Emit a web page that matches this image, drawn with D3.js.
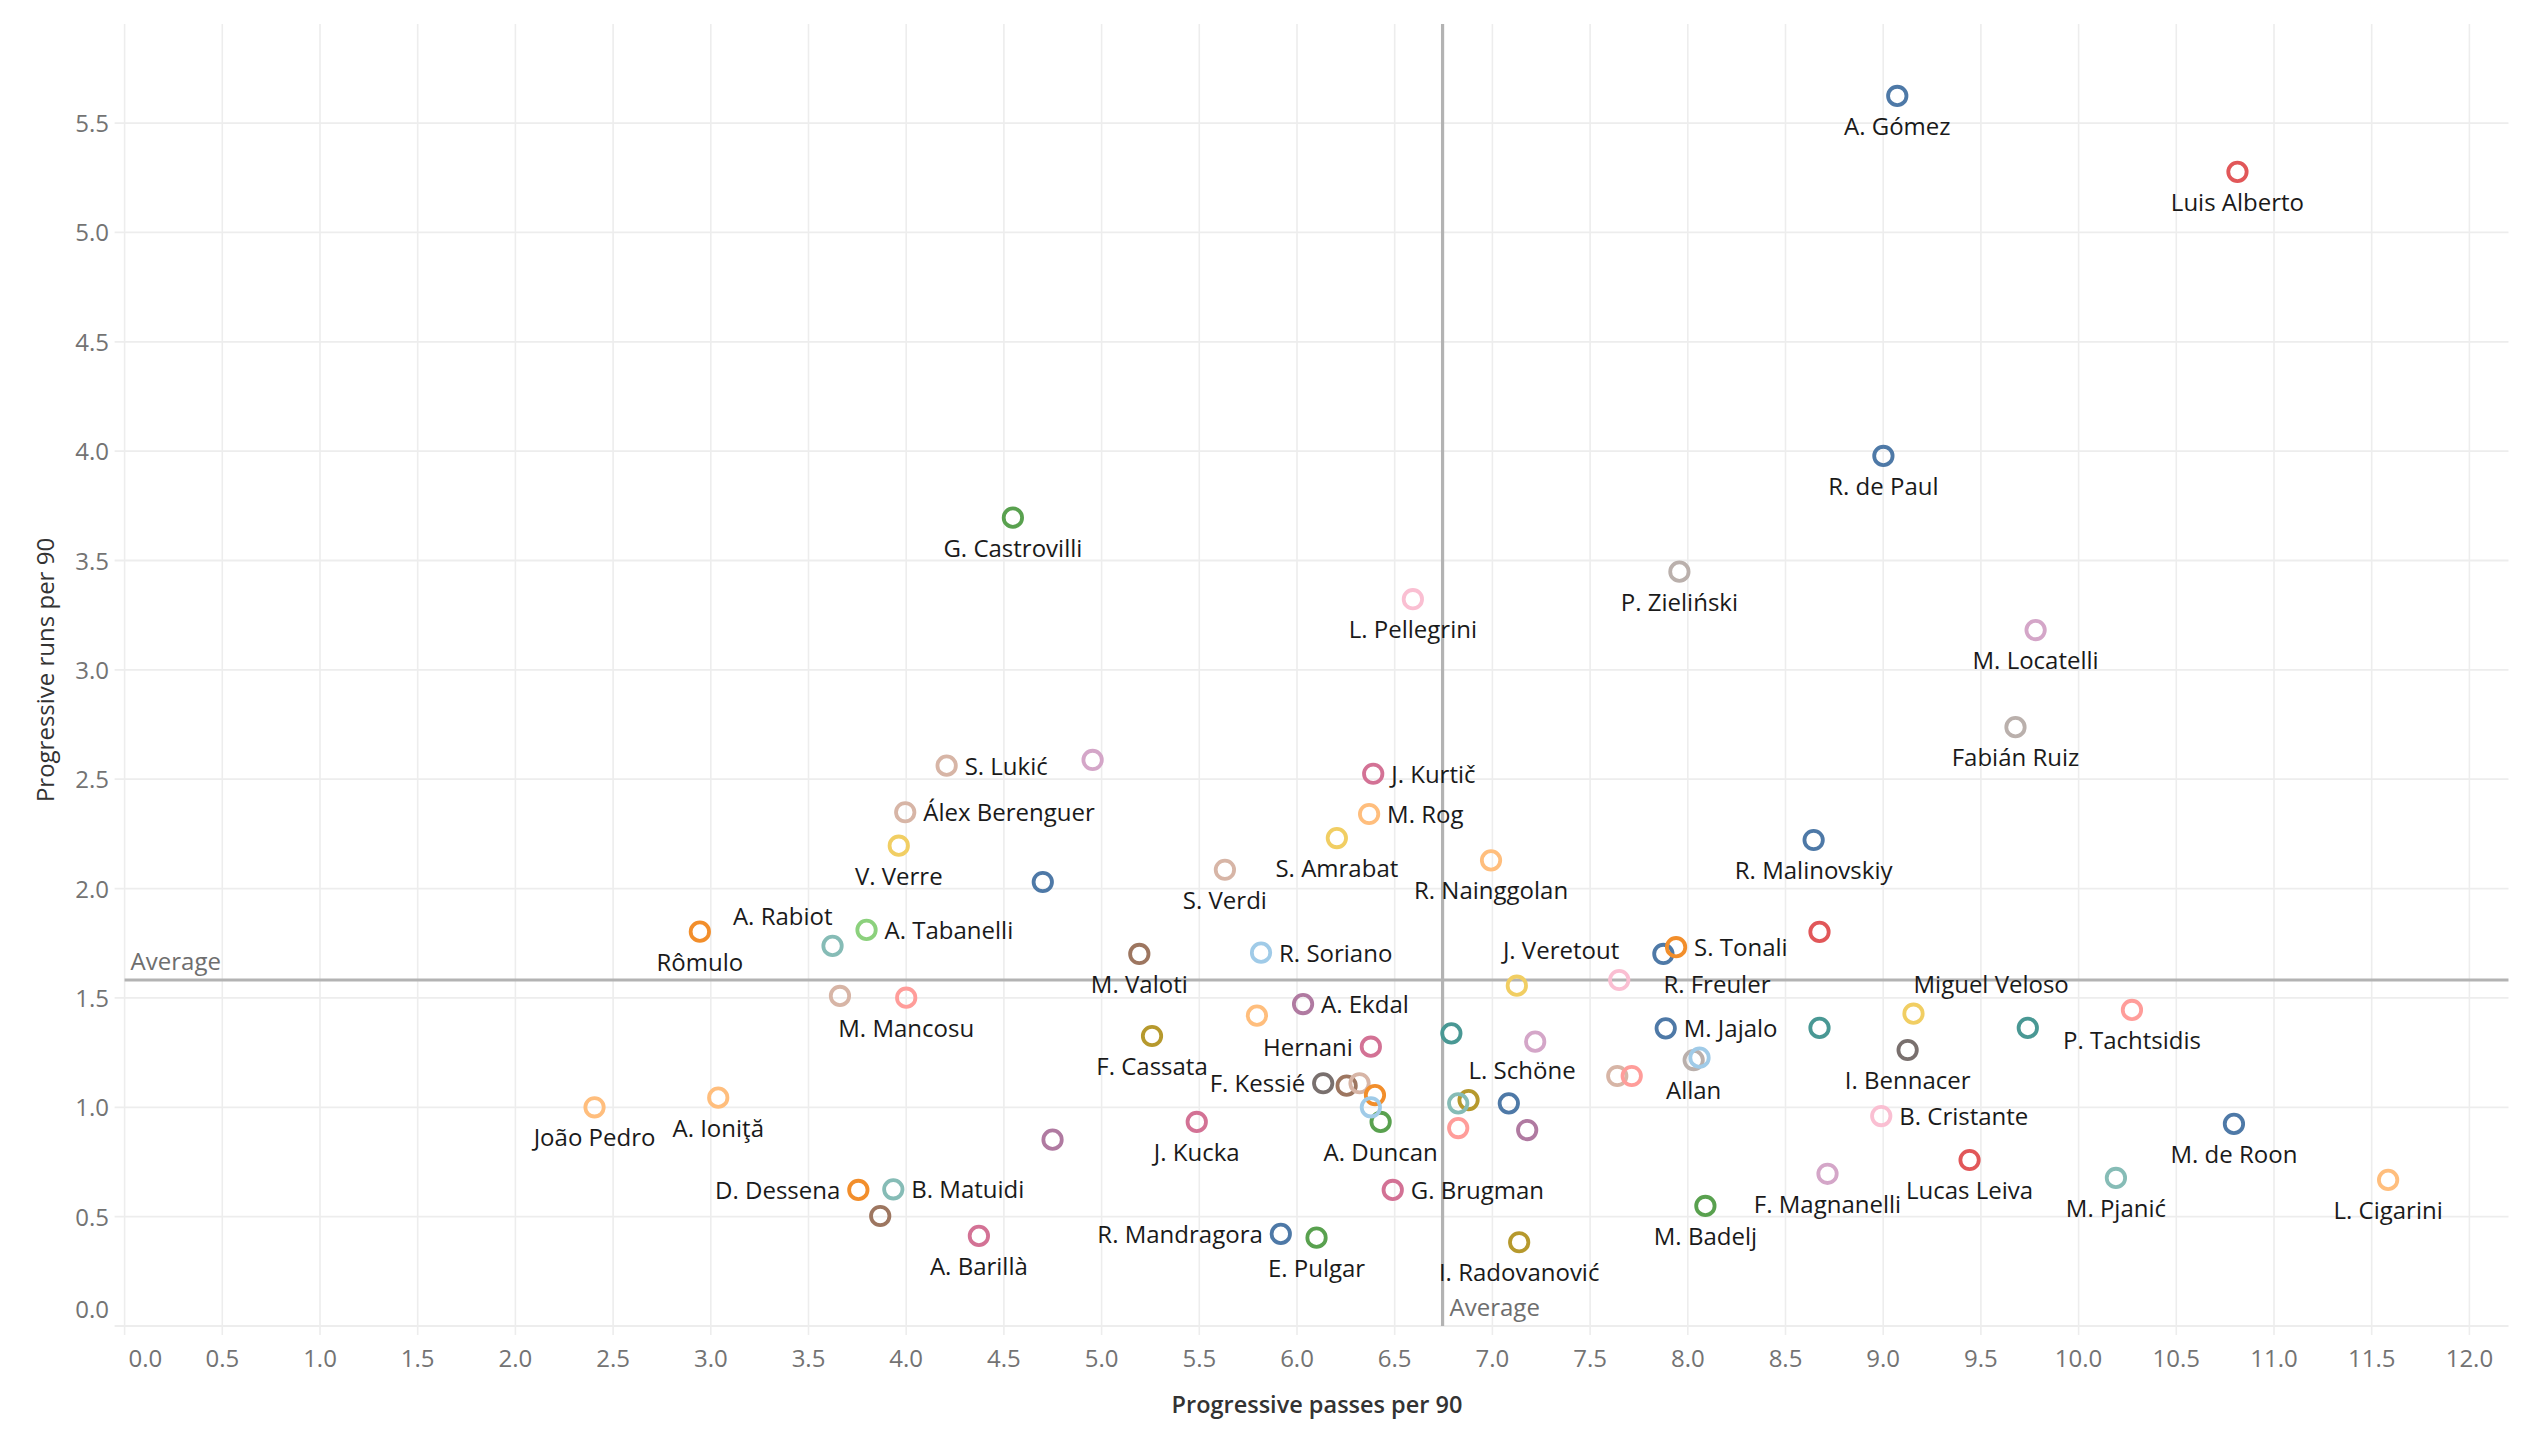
<!DOCTYPE html>
<html>
<head>
<meta charset="utf-8">
<script src="https://cdn.jsdelivr.net/npm/d3@7"></script>
<style>
  html, body { margin: 0; padding: 0; background: #ffffff; }
  svg { display: block; }
  text { font-family: "Open Sans", "Noto Sans", sans-serif; }
</style>
</head>
<body>
<svg id="chart" width="2528" height="1438"></svg>
<script>
// ---------------- DATA ----------------
const players = [
  "A. Gómez", "Luis Alberto", "R. de Paul", "G. Castrovilli", "L. Pellegrini",
  "P. Zieliński", "M. Locatelli", "Fabián Ruiz", "R. Malinovskiy", "",
  "Miguel Veloso", "", "I. Bennacer", "", "P. Tachtsidis",
  "B. Cristante", "M. de Roon", "Lucas Leiva", "F. Magnanelli", "M. Pjanić",
  "L. Cigarini", "M. Badelj", "I. Radovanović", "G. Brugman", "E. Pulgar",
  "R. Mandragora", "A. Barillà", "J. Kucka", "", "A. Duncan",
  "", "", "B. Matuidi", "D. Dessena", "",
  "João Pedro", "A. Ioniţă", "Rômulo", "A. Tabanelli", "",
  "M. Mancosu", "V. Verre", "Álex Berenguer", "S. Lukić", "",
  "", "J. Kurtič", "M. Rog", "S. Amrabat", "S. Verdi",
  "R. Nainggolan", "M. Valoti", "R. Soriano", "", "J. Veretout",
  "R. Freuler", "S. Tonali", "A. Ekdal", "", "F. Cassata",
  "Hernani", "", "", "L. Schöne", "M. Jajalo",
  "Allan", "", "", "", "F. Kessié",
  "", "", "", "", "",
  "", "A. Rabiot"
];
const progressivePasses = [
  9.072, 10.813, 9.001, 4.546, 6.593,
  7.957, 9.780, 9.677, 8.644, 8.674,
  9.155, 8.674, 9.125, 9.740, 10.273,
  8.990, 10.795, 9.442, 8.715, 10.191,
  11.584, 8.09, 7.137, 6.49, 6.10,
  5.917, 4.372, 5.487, 4.749, 6.428,
  6.825, 7.178, 3.934, 3.755, 3.867,
  2.405, 3.038, 2.944, 3.797, 3.661,
  4.0, 3.962, 3.995, 4.207, 4.954,
  4.699, 6.39, 6.369, 6.204, 5.631,
  6.993, 5.193, 5.816, 7.125, 7.649,
  7.875, 7.94, 6.031, 5.795, 5.258,
  6.378, 6.79, 7.219, 6.878, 7.887,
  8.03, 8.06, 7.639, 7.713, 6.134,
  6.254, 6.32, 6.399, 6.378, 6.825,
  7.084, 3.623
];
const progressiveRuns = [
  5.624, 5.277, 3.978, 3.696, 3.323,
  3.449, 3.182, 2.738, 2.222, 1.802,
  1.428, 1.363, 1.262, 1.363, 1.445,
  0.960, 0.924, 0.759, 0.696, 0.677,
  0.668, 0.549, 0.383, 0.622, 0.404,
  0.421, 0.412, 0.933, 0.852, 0.933,
  0.905, 0.896, 0.625, 0.622, 0.503,
  1.000, 1.044, 1.803, 1.811, 1.509,
  1.501, 2.196, 2.349, 2.562, 2.588,
  2.030, 2.525, 2.341, 2.231, 2.086,
  2.129, 1.701, 1.707, 1.556, 1.582,
  1.701, 1.732, 1.472, 1.419, 1.326,
  1.277, 1.338, 1.300, 1.033, 1.361,
  1.216, 1.227, 1.143, 1.143, 1.110,
  1.099, 1.110, 1.056, 1.000, 1.018,
  1.018, 1.738
];
const clubs = [
  "Atalanta", "Lazio", "Udinese", "Fiorentina", "Roma",
  "Napoli", "Sassuolo", "Napoli", "Atalanta", "Lazio",
  "Verona", "Inter", "Milan", "Inter", "Lecce",
  "Roma", "Atalanta", "Lazio", "Sassuolo", "Juventus",
  "Cagliari", "Fiorentina", "Genoa", "Parma", "Fiorentina",
  "Udinese", "Parma", "Parma", "Sampdoria", "Fiorentina",
  "Lecce", "Sampdoria", "Juventus", "Brescia", "SPAL",
  "Cagliari", "Cagliari", "Brescia", "Frosinone", "Torino",
  "Lecce", "Verona", "Torino", "Torino", "Sassuolo",
  "Atalanta", "Parma", "Cagliari", "Verona", "Torino",
  "Cagliari", "SPAL", "Bologna", "Verona", "Roma",
  "Atalanta", "Brescia", "Sampdoria", "Cagliari", "Genoa",
  "Parma", "Inter", "Sassuolo", "Genoa", "Udinese",
  "Napoli", "Bologna", "Torino", "Lecce", "Milan",
  "SPAL", "Torino", "Brescia", "Bologna", "Juventus",
  "Udinese", "Juventus"
];
const averagePasses = 6.745;
const averageRuns = 1.582;
const xTicks = d3.range(0, 12.01, 0.5);
const yTicks = d3.range(0, 5.51, 0.5);
const xTitle = "Progressive passes per 90";
const yTitle = "Progressive runs per 90";
const averageLabel = "Average";

// ---------------- STYLE / LAYOUT ----------------
const clubColor = {
  "Atalanta": "#4e79a7", "Udinese": "#4e79a7", "Bologna": "#a0cbe8",
  "Brescia": "#f28e2b", "Cagliari": "#ffbe7d", "Fiorentina": "#59a14f",
  "Frosinone": "#8cd17d", "Genoa": "#b6992d", "Verona": "#f1ce63",
  "Inter": "#499894", "Juventus": "#86bcb6", "Lazio": "#e15759",
  "Lecce": "#ff9d9a", "Milan": "#79706e", "Napoli": "#bab0ac",
  "Parma": "#d37295", "Roma": "#fabfd2", "Sampdoria": "#b07aa1",
  "Sassuolo": "#d4a6c8", "SPAL": "#9d7660", "Torino": "#d7b5a6"
};
// label placement (b = below, r = right, l = left, tl/tr = above-left/right, br = below-right)
const labelPlacement = {
  "Miguel Veloso": "tr", "L. Schöne": "tr", "J. Veretout": "tl", "A. Rabiot": "tl",
  "R. Freuler": "br",
  "B. Cristante": "r", "G. Brugman": "r", "B. Matuidi": "r", "A. Tabanelli": "r",
  "Álex Berenguer": "r", "S. Lukić": "r", "J. Kurtič": "r", "M. Rog": "r",
  "R. Soriano": "r", "S. Tonali": "r", "A. Ekdal": "r", "M. Jajalo": "r",
  "R. Mandragora": "l", "D. Dessena": "l", "Hernani": "l", "F. Kessié": "l"
};

const svg = d3.select("#chart");
const W = 2528, H = 1438;
svg.append("rect").attr("width", W).attr("height", H).attr("fill", "#ffffff");

const x = d3.scaleLinear().domain([0, 12.2]).range([124.6, 124.6 + 12.2 * 195.4]);
const y = d3.scaleLinear().domain([0, 5.953]).range([1326, 24]);
const plotTop = y(5.953), plotBottom = y(0), plotLeft = x(0), plotRight = x(12.2);

const fmt = d3.format(".1f");
const gridColor = "#ededed";

// vertical gridlines + x axis ticks
const gx = svg.append("g");
gx.selectAll("line").data(xTicks).join("line")
  .attr("x1", d => x(d)).attr("x2", d => x(d))
  .attr("y1", plotTop).attr("y2", plotBottom + 9)
  .attr("stroke", gridColor).attr("stroke-width", 1.6);
gx.selectAll("text").data(xTicks).join("text")
  .attr("x", d => d === 0 ? x(d) + 4 : x(d))
  .attr("y", 1367)
  .attr("text-anchor", d => d === 0 ? "start" : "middle")
  .attr("font-size", 24).attr("fill", "#737373")
  .text(d => fmt(d));

// horizontal gridlines + y axis ticks
const gy = svg.append("g");
gy.selectAll("line").data(yTicks).join("line")
  .attr("x1", plotLeft - 10).attr("x2", plotRight)
  .attr("y1", d => y(d)).attr("y2", d => y(d))
  .attr("stroke", gridColor).attr("stroke-width", 1.8);
gy.selectAll("text").data(yTicks).join("text")
  .attr("x", 109)
  .attr("y", d => d === 0 ? y(d) - 8 : y(d) + 9)
  .attr("text-anchor", "end")
  .attr("font-size", 24).attr("fill", "#737373")
  .text(d => fmt(d));

// reference (average) lines
svg.append("line")
  .attr("x1", plotLeft).attr("x2", plotRight)
  .attr("y1", y(averageRuns)).attr("y2", y(averageRuns))
  .attr("stroke", "#b3b3b3").attr("stroke-width", 3.2);
svg.append("line")
  .attr("x1", x(averagePasses)).attr("x2", x(averagePasses))
  .attr("y1", plotTop).attr("y2", plotBottom)
  .attr("stroke", "#b3b3b3").attr("stroke-width", 3.2);
svg.append("text")
  .attr("x", plotLeft + 6).attr("y", y(averageRuns) - 10)
  .attr("font-size", 24).attr("fill", "#6e6e6e").text(averageLabel);
svg.append("text")
  .attr("x", x(averagePasses) + 7).attr("y", plotBottom - 10)
  .attr("font-size", 24).attr("fill", "#6e6e6e").text(averageLabel);

// axis titles
svg.append("text")
  .attr("x", 1317).attr("y", 1413)
  .attr("text-anchor", "middle")
  .attr("font-size", 23.5).attr("font-weight", 600).attr("fill", "#333333")
  .text(xTitle);
svg.append("text")
  .attr("transform", "translate(54,670) rotate(-90)")
  .attr("text-anchor", "middle")
  .attr("font-size", 24).attr("font-weight", 500).attr("fill", "#333333")
  .text(yTitle);

// points
const data = players.map((name, i) => ({
  name, px: progressivePasses[i], py: progressiveRuns[i], club: clubs[i]
}));

svg.append("g").selectAll("circle").data(data).join("circle")
  .attr("cx", d => x(d.px)).attr("cy", d => y(d.py))
  .attr("r", 9.2)
  .attr("fill", "none")
  .attr("stroke", d => clubColor[d.club])
  .attr("stroke-width", 3.8);

// labels
const labelled = data.filter(d => d.name !== "");
svg.append("g").selectAll("text").data(labelled).join("text")
  .each(function (d) {
    const p = labelPlacement[d.name] || "b";
    const cx = x(d.px), cy = y(d.py);
    let tx = cx, ty = cy + 39, anchor = "middle";
    if (p === "r") { tx = cx + 18; ty = cy + 9; anchor = "start"; }
    else if (p === "l") { tx = cx - 18; ty = cy + 9; anchor = "end"; }
    else if (p === "tl") { tx = cx; ty = cy - 21; anchor = "end"; }
    else if (p === "tr") { tx = cx; ty = cy - 21; anchor = "start"; }
    else if (p === "br") { tx = cx; ty = cy + 39; anchor = "start"; }
    d3.select(this).attr("x", tx).attr("y", ty).attr("text-anchor", anchor);
  })
  .attr("font-size", 24).attr("fill", "#1a1a1a")
  .text(d => d.name);
</script>
</body>
</html>
